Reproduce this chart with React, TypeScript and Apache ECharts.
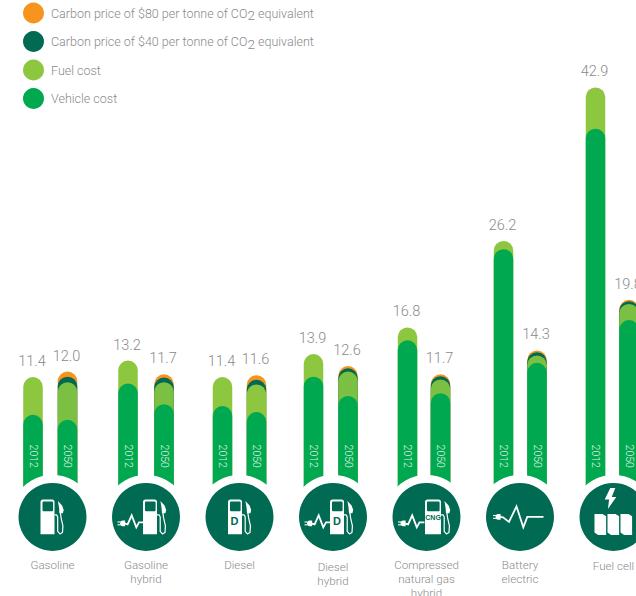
import React, { useEffect, useRef } from "react";
import * as echarts from "echarts";

// Cost per 100 km by powertrain, split into vehicle, fuel and carbon price components.
const powertrains = [
  "Gasoline",
  "Gasoline\nhybrid",
  "Diesel",
  "Diesel\nhybrid",
  "Compressed\nnatural gas\nhybrid",
  "Battery\nelectric",
  "Fuel cell",
];
const years = ["2012", "2050"];
const vehicleCost2012 = [7.3, 10.7, 8.25, 11.45, 15.4, 25.3, 38.4];
const fuelCost2012 = [4.1, 2.5, 3.15, 2.45, 1.4, 0.9, 4.5];
const vehicleCost2050 = [6.75, 8.45, 7.6, 9.35, 9.65, 12.95, 17.6];
const fuelCost2050 = [4.1, 2.4, 3.0, 2.65, 1.5, 0.8, 1.75];
const carbon40Cost2050 = [0.6, 0.5, 0.5, 0.35, 0.35, 0.35, 0.3];
const carbon80Cost2050 = [0.55, 0.35, 0.5, 0.25, 0.2, 0.2, 0.15];

const legendCarbon80 = "Carbon price of $80 per tonne of CO2 equivalent";
const legendCarbon40 = "Carbon price of $40 per tonne of CO2 equivalent";
const legendFuel = "Fuel cost";
const legendVehicle = "Vehicle cost";

const ORANGE = "#F7941D";
const DARK = "#006A52";
const LIME = "#8DC63F";
const LIME_2050 = "#7CC043";
const GREEN = "#00A84F";
const GREY = "#8A8A8C";
const FONT = "Roboto, 'Liberation Sans', sans-serif";

// Layout of the scale: one axis unit of x is one powertrain group.
const GROUP_STEP = 93.5;
const FIRST_GROUP = 52.5;
const WIDTH = 636;
const HEIGHT = 596;
const BAR_WIDTH = 19.5;
const STEM_FLOOR = -2;
const BADGE_LEVEL = -3.8;
const YEAR_LEVEL = 2.8;
const BAR_SHIFT = [
  [-19.5, 15],
  [-18, 18],
  [-17, 17],
  [-19.5, 15],
  [-19, 14],
  [-16.5, 17],
  [-18, 15.5],
];
const LABEL_DROP = [0, 0, 0, 2, 0, 0, 1];

const barX = (group: number, yearIndex: number) =>
  group + BAR_SHIFT[group][yearIndex] / GROUP_STEP;

const sum = (...parts: number[]) => parts.reduce((a, b) => a + b, 0);

// Cumulative tops, one list per stack layer, every group giving its 2012 then 2050 bar.
const flat = (a: number[], b: number[]) => a.flatMap((v, i) => [v, b[i]]);
const zero = powertrains.map(() => 0);
const vehicleTops = flat(vehicleCost2012, vehicleCost2050);
const fuelTops = flat(
  vehicleCost2012.map((v, i) => sum(v, fuelCost2012[i])),
  vehicleCost2050.map((v, i) => sum(v, fuelCost2050[i]))
);
const carbon40Tops = flat(
  zero,
  vehicleCost2050.map((v, i) => sum(v, fuelCost2050[i], carbon40Cost2050[i]))
);
const carbon80Tops = flat(
  zero,
  vehicleCost2050.map((v, i) =>
    sum(v, fuelCost2050[i], carbon40Cost2050[i], carbon80Cost2050[i])
  )
);
const totals = fuelTops.map((t, i) => Math.max(t, carbon80Tops[i]));
const barPositions = powertrains.flatMap((_, g) => [barX(g, 0), barX(g, 1)]);

const white = { fill: "#fff" };
const darkFill = { fill: DARK };

// Fuel pump drawn around the badge centre; shift moves it right, extra widens the body.
function pump(shift: number, extra = 0) {
  const h = shift + extra;
  return [
    {
      type: "rect",
      shape: { x: -12 + shift, y: -17.3, width: 14 + extra, height: 34.6, r: [2.5, 2.5, 0, 0] },
      style: white,
    },
    {
      type: "rect",
      shape: { x: -10 + shift, y: -15.3, width: 10.6 + extra, height: 9.6, r: 1 },
      style: darkFill,
    },
    {
      type: "polyline",
      shape: {
        points: [
          [2 + h, -2],
          [4.2 + h, -2],
          [5.2 + h, 0],
          [5.2 + h, 14.5],
          [7.4 + h, 17],
          [10 + h, 15.5],
          [10.4 + h, 9],
          [8.6 + h, 1],
          [7.6 + h, -6],
        ],
      },
      style: { fill: "none", stroke: "#fff", lineWidth: 1.2, lineJoin: "round" },
    },
    {
      type: "polygon",
      shape: {
        points: [
          [5.4 + h, -16],
          [9.6 + h, -11.5],
          [11.2 + h, -7],
          [10.4 + h, -3.6],
          [7 + h, -3.6],
          [6.6 + h, -9],
        ],
      },
      style: white,
    },
  ];
}

function plugAndWave(points: number[][], plugX: number, plugY: number) {
  return [
    {
      type: "polyline",
      shape: { points },
      style: { fill: "none", stroke: "#fff", lineWidth: 1.8, lineJoin: "miter" },
    },
    {
      type: "rect",
      shape: { x: plugX + 2.6, y: plugY - 2.8, width: 5, height: 5.6, r: [2.6, 0, 0, 2.6] },
      style: white,
    },
    {
      type: "line",
      shape: { x1: plugX, y1: plugY - 1.4, x2: plugX + 3, y2: plugY - 1.4 },
      style: { stroke: "#fff", lineWidth: 1.1 },
    },
    {
      type: "line",
      shape: { x1: plugX, y1: plugY + 1.4, x2: plugX + 3, y2: plugY + 1.4 },
      style: { stroke: "#fff", lineWidth: 1.1 },
    },
  ];
}

const hybridWave = (endX: number) =>
  plugAndWave(
    [
      [-22, 6.5],
      [-18.4, 7.5],
      [-14.3, -1.5],
      [-9.7, 10.5],
      [-7, 5.5],
      [endX, 5.5],
    ],
    -28.5,
    6.5
  );

function pumpLetter(text: string, x: number, y: number, size: number) {
  return {
    type: "text",
    x,
    y,
    style: {
      text,
      fill: DARK,
      fontFamily: "'Liberation Sans Narrow', 'Liberation Sans', sans-serif",
      fontWeight: "bold",
      fontSize: size,
      align: "center",
      verticalAlign: "middle",
    },
  };
}

function fuelCellPanels() {
  return [0, 1, 2].map((i) => {
    const l = -19 + 13 * i;
    return {
      type: "polygon",
      shape: {
        points: [
          [l, -3],
          [l + 8, -3],
          [l + 11.6, -0.6],
          [l + 11.6, 18],
          [l + 3.6, 18],
          [l, 15.6],
        ],
      },
      style: white,
    };
  });
}

const badgeIcons: (() => any[])[] = [
  () => pump(0),
  () => [...hybridWave(-3), ...pump(9)],
  () => [...pump(0.5), pumpLetter("D", -5, 4.5, 11)],
  () => [...hybridWave(-3), ...pump(9), pumpLetter("D", 4, 4.5, 11)],
  () => [...hybridWave(-2), ...pump(10.5, 2), pumpLetter("CNG", 6.6, 0.5, 7)],
  () =>
    plugAndWave(
      [
        [-20, 0],
        [-17, 0.5],
        [-11, 5],
        [-3.5, -10.5],
        [3.3, 10.5],
        [7.3, 0],
        [23.5, 0],
      ],
      -27,
      0
    ),
  () => [
    {
      type: "polygon",
      shape: {
        points: [
          [-3.2, -29],
          [-8.8, -17.3],
          [-4.4, -17.3],
          [-5.6, -8],
          [2.8, -20],
          [-1.8, -20],
          [1.8, -29],
        ],
      },
      style: white,
    },
    ...fuelCellPanels(),
  ],
];

// One pill per bar, painted back to front so each layer shows only its own band.
function pillSeries(name: string, color: string, tops: number[], colors?: string[]) {
  return {
    type: "custom",
    name,
    itemStyle: { color },
    encode: { x: 0, y: 1 },
    data: tops.map((t, i) => [barPositions[i], t]),
    renderItem(params: any, api: any) {
      const top = api.value(1);
      if (!top) return null;
      const [cx, cy] = api.coord([api.value(0), top]);
      const [, floor] = api.coord([api.value(0), STEM_FLOOR]);
      const r = BAR_WIDTH / 2;
      return {
        type: "rect",
        shape: { x: cx - r, y: cy, width: BAR_WIDTH, height: floor - cy, r: [r, r, 0, 0] },
        style: { fill: colors ? colors[params.dataIndex] : color },
      };
    },
  };
}

const groupIndexes = powertrains.map((_, i) => [i, BADGE_LEVEL]);
const fuelColors = powertrains.flatMap((name) => [
  LIME,
  name === "Diesel" ? LIME : LIME_2050,
]);

function buildOption() {
  return {
    animation: false,
    backgroundColor: "#fff",
    grid: { left: 0, right: 0, top: 0, bottom: 0 },
    xAxis: {
      type: "value",
      show: false,
      min: -FIRST_GROUP / GROUP_STEP,
      max: (WIDTH - FIRST_GROUP) / GROUP_STEP,
    },
    yAxis: { type: "value", show: false, min: -12.4, max: 52.4 },
    legend: {
      orient: "vertical",
      left: 18,
      top: -2.5,
      itemWidth: 21,
      itemHeight: 21,
      itemGap: 7.5,
      icon: "circle",
      selectedMode: false,
      data: [legendCarbon80, legendCarbon40, legendFuel, legendVehicle],
      formatter: (name: string) => name.replace("CO2", "CO{sub|2}"),
      textStyle: {
        color: GREY,
        fontFamily: FONT,
        fontWeight: 300,
        fontSize: 12.5,
        padding: [0, 0, 0, 2],
        rich: {
          sub: {
            color: GREY,
            fontFamily: FONT,
            fontWeight: 300,
            fontSize: 13.5,
            padding: [4, 0, 0, 0],
          },
        },
      },
    },
    series: [
      pillSeries(legendCarbon80, ORANGE, carbon80Tops),
      pillSeries(legendCarbon40, DARK, carbon40Tops),
      pillSeries(legendFuel, LIME, fuelTops, fuelColors),
      pillSeries(legendVehicle, GREEN, vehicleTops),
      {
        // Year tags inside the stems and totals above the pills.
        type: "custom",
        encode: { x: 0, y: 1 },
        data: totals.map((t, i) => [barPositions[i], t]),
        renderItem(params: any, api: any) {
          const [cx, cy] = api.coord([api.value(0), api.value(1)]);
          const [, yearY] = api.coord([api.value(0), YEAR_LEVEL]);
          return {
            type: "group",
            children: [
              {
                type: "text",
                x: cx - 1,
                y: cy - 15.5,
                style: {
                  text: api.value(1).toFixed(1),
                  fill: GREY,
                  fontFamily: FONT,
                  fontWeight: 300,
                  fontSize: 14.5,
                  align: "center",
                  verticalAlign: "middle",
                },
              },
              {
                type: "text",
                x: cx,
                y: yearY,
                rotation: -Math.PI / 2,
                style: {
                  text: years[params.dataIndex % 2],
                  fill: "#E6F5EA",
                  fontFamily: FONT,
                  fontWeight: 300,
                  fontSize: 10.5,
                  align: "center",
                  verticalAlign: "middle",
                },
              },
            ],
          };
        },
      },
      {
        // Round powertrain badges with their captions underneath.
        type: "custom",
        encode: { x: 0, y: 1 },
        data: groupIndexes,
        renderItem(params: any, api: any) {
          const [cx, cy] = api.coord([api.value(0), api.value(1)]);
          const i = params.dataIndex;
          return {
            type: "group",
            x: cx,
            y: cy,
            children: [
              { type: "circle", shape: { cx: 0, cy: 0, r: 42 }, style: white },
              { type: "circle", shape: { cx: 0, cy: 0, r: 34 }, style: darkFill },
              ...badgeIcons[i](),
              {
                type: "text",
                x: 0,
                y: 41.5 + LABEL_DROP[i],
                style: {
                  text: powertrains[i],
                  fill: GREY,
                  fontFamily: FONT,
                  fontWeight: 300,
                  fontSize: 11.6,
                  lineHeight: 14,
                  align: "center",
                  verticalAlign: "top",
                },
              },
            ],
          };
        },
      },
    ],
  };
}

export default function App() {
  const ref = useRef<HTMLDivElement>(null);
  useEffect(() => {
    document.body.style.margin = "0";
    const chart = echarts.init(ref.current!, undefined, { renderer: "svg" });
    chart.setOption(buildOption() as any);
    return () => chart.dispose();
  }, []);
  return <div ref={ref} style={{ width: WIDTH, height: HEIGHT, overflow: "hidden" }} />;
}
